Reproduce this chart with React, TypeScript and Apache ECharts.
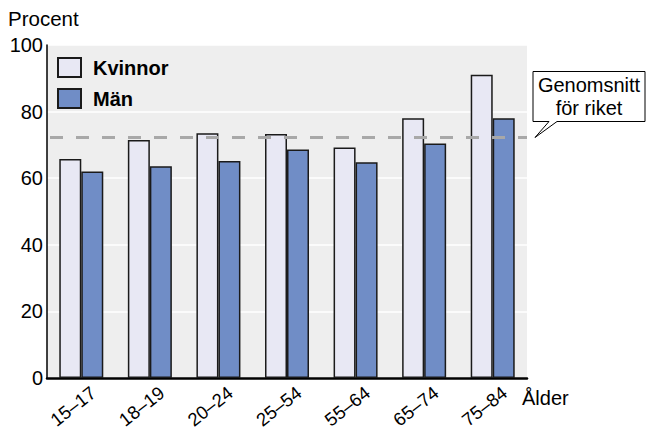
import React, { useEffect, useRef } from "react";
import * as echarts from "echarts";

const categories = ["15–17", "18–19", "20–24", "25–54", "55–64", "65–74", "75–84"];
const kvinnor = [65.8, 71.5, 73.5, 73.3, 69.2, 78.0, 91.1];
const man = [62.0, 63.6, 65.2, 68.6, 64.8, 70.4, 78.0];
const rikssnitt = 72.3;
const yTicks = { min: 0, max: 100, interval: 20 };

const FONT = "Liberation Sans, Arial, Helvetica, sans-serif";
const FS = 20;

export default function App() {
  const ref = useRef<HTMLDivElement>(null);
  useEffect(() => {
    if (!ref.current) return;
    const chart = echarts.init(ref.current, null, { renderer: "svg" });
    chart.setOption({
      animation: false,
      backgroundColor: "#ffffff",
      textStyle: { fontFamily: FONT, color: "#000" },
      grid: {
        left: 47,
        right: 121,
        top: 45,
        bottom: 51,
        show: true,
        backgroundColor: "#eeeeee",
        borderWidth: 0,
        containLabel: false,
        outerBoundsMode: "none",
      },
      legend: {
        orient: "vertical",
        left: 57,
        top: 57,
        padding: 0,
        itemWidth: 23,
        itemHeight: 19,
        itemGap: 10,
        icon: "rect",
        selectedMode: false,
        textStyle: { fontFamily: FONT, fontSize: FS, fontWeight: "bold", color: "#000", padding: [0, 0, 0, 7] },
        data: ["Kvinnor", "Män"],
      },
      xAxis: {
        type: "category",
        data: categories,
        axisLine: { show: true, lineStyle: { color: "#000", width: 2.5 } },
        axisTick: { show: false },
        axisLabel: {
          rotate: 38,
          fontSize: 18.5,
          color: "#000",
          fontFamily: FONT,
          margin: -3,
          verticalAlign: "top",
          padding: [10, 0, 0, 0],
          interval: 0,
        },
        name: "Ålder",
        nameLocation: "end",
        nameGap: -5,
        nameTextStyle: {
          fontSize: FS,
          color: "#000",
          fontFamily: FONT,
          align: "left",
          verticalAlign: "top",
          padding: [10, 0, 0, 0],
        },
      },
      yAxis: {
        type: "value",
        min: yTicks.min,
        max: yTicks.max,
        interval: yTicks.interval,
        axisLine: { show: true, lineStyle: { color: "#000", width: 1.5 } },
        axisTick: { show: false },
        axisLabel: { fontSize: FS, color: "#000", fontFamily: FONT, margin: 4 },
        splitLine: { show: true, lineStyle: { color: "#ffffff", width: 1.5 } },
      },
      series: [
        {
          name: "Kvinnor",
          type: "bar",
          data: kvinnor,
          barWidth: 22,
          barGap: "0%",
          itemStyle: { color: "#e8e8f4", borderColor: "#1a1a1a", borderWidth: 1.5 },
          markLine: {
            silent: true,
            symbol: "none",
            label: { show: false },
            lineStyle: { color: "#a8a8a8", type: [13, 13], width: 3, dashOffset: -3 },
            data: [{ yAxis: rikssnitt }],
          },
        },
        {
          name: "Män",
          type: "bar",
          data: man,
          barWidth: 22,
          barGap: "0%",
          itemStyle: { color: "#708dc6", borderColor: "#1a1a1a", borderWidth: 1.5 },
        },
      ],
      graphic: [
        {
          type: "text",
          left: 8,
          top: 8,
          style: { text: "Procent", fontSize: 20.5, fontFamily: FONT, fill: "#000" },
        },
        {
          type: "polygon",
          shape: {
            points: [
              [533, 71.5],
              [645, 71.5],
              [645, 121.5],
              [557, 121.5],
              [535, 137.5],
              [549, 121.5],
              [533, 121.5],
            ],
          },
          style: { fill: "#ffffff", stroke: "#000", lineWidth: 1 },
        },
        {
          type: "text",
          x: 589,
          y: 96.5,
          style: {
            text: "Genomsnitt\nför riket",
            fontSize: FS,
            lineHeight: 23,
            fontFamily: FONT,
            fill: "#000",
            align: "center",
            verticalAlign: "middle",
          },
        },
      ],
    });
    return () => chart.dispose();
  }, []);
  return <div ref={ref} style={{ width: 648, height: 429, position: "absolute", left: 0, top: 0 }} />;
}
